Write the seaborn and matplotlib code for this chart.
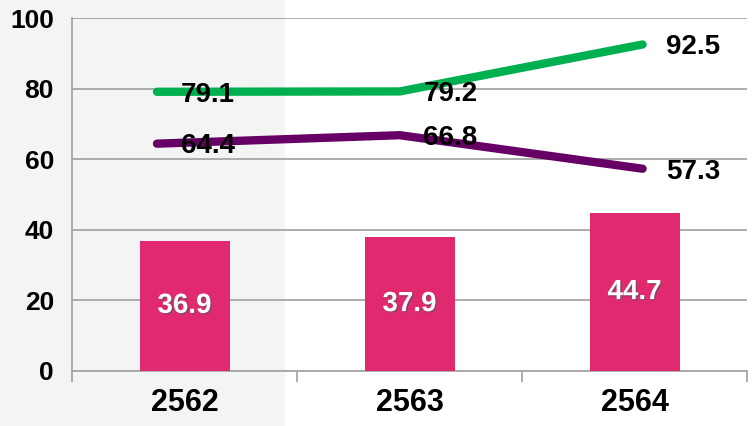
import matplotlib
matplotlib.use("Agg")
import matplotlib.pyplot as plt
import matplotlib.patheffects as pe
from matplotlib.patches import Rectangle
from matplotlib.ticker import MultipleLocator, FixedLocator
import seaborn as sns
import pandas as pd

sns.set_style("white")
plt.rcParams['font.family'] = ['Liberation Sans', 'DejaVu Sans']

years = ['2562', '2563', '2564']
bar_values = [36.9, 37.9, 44.7]
green_values = [79.1, 79.2, 92.5]
purple_values = [64.4, 66.8, 57.3]

bar_color = '#E0296F'
green = '#00B050'
purple = '#660066'
grid_color = '#A6A6A6'

fig = plt.figure(figsize=(7.56, 4.26), dpi=100)
# shaded band behind the first year
fig.patches.append(Rectangle((0, 0), 285 / 756, 1, transform=fig.transFigure,
                             facecolor='#F3F5F4', edgecolor='none', zorder=-10))

ax = fig.add_axes([72 / 756, 55 / 426, 675 / 756, 353 / 426])
ax.set_facecolor('none')

df = pd.DataFrame({'year': years, 'value': bar_values})
sns.barplot(data=df, x='year', y='value', color=bar_color, width=0.4,
            saturation=1, linewidth=0, ax=ax, zorder=3)

for i, v in enumerate(bar_values):
    ax.text(i, v / 2, f'{v}', ha='center', va='center', color='white',
            fontsize=20, fontweight='bold', zorder=5,
            path_effects=[pe.withSimplePatchShadow(offset=(1, -1), shadow_rgbFace='#555555', alpha=0.6)])

ax.set_ylim(0, 100)
ax.set_xlim(-0.5, 2.5)
ax.yaxis.set_major_locator(MultipleLocator(20))
ax.grid(axis='y', color=grid_color, linewidth=1.3, zorder=0)
ax.set_axisbelow(True)
ax.set_xlabel('')
ax.set_ylabel('')
for s in ['top', 'right']:
    ax.spines[s].set_visible(False)
for s in ['left', 'bottom']:
    ax.spines[s].set_color(grid_color)
    ax.spines[s].set_linewidth(1.3)
ax.tick_params(axis='y', length=7, width=1.3, color=grid_color, labelsize=19,
               pad=6, labelcolor='black')
ax.tick_params(axis='x', which='major', length=0, labelsize=22, pad=12,
               labelcolor='black')
ax.xaxis.set_minor_locator(FixedLocator([-0.5, 0.5, 1.5, 2.5]))
ax.tick_params(axis='x', which='minor', length=8, width=1.3, color=grid_color)
for lbl in ax.get_xticklabels() + ax.get_yticklabels():
    lbl.set_fontweight('bold')

# lines sit on their own x scale (like an Excel secondary axis)
ax2 = ax.twiny()
ax2.set_facecolor('none')
xs = list(range(len(years)))
ln = pd.DataFrame({'x': xs * 2, 'v': green_values + purple_values,
                   's': ['g'] * 3 + ['p'] * 3})
sns.lineplot(data=ln, x='x', y='v', hue='s', palette={'g': green, 'p': purple},
             linewidth=6, legend=False, ax=ax2, zorder=4,
             solid_capstyle='round')
ax2.set_xlim(-0.35, 2.43)
ax2.set_ylim(0, 100)
ax2.axis('off')

for vals in (green_values, purple_values):
    for i, v in enumerate(vals):
        ax2.annotate(f'{v}', (i, v), xytext=(17, -2), textcoords='offset points',
                     ha='left', va='center', fontsize=20, fontweight='bold',
                     color='black', zorder=6)

fig.savefig('out.png', dpi=100)
